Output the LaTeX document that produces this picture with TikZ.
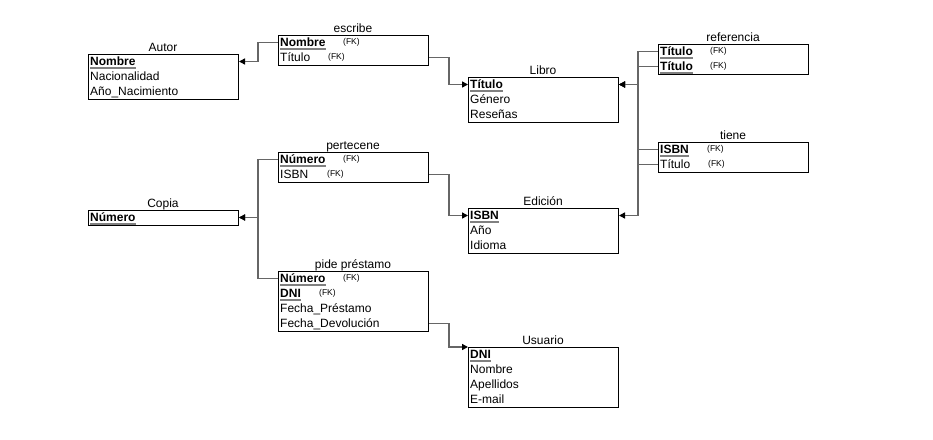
\documentclass[tikz,border=0pt]{standalone}
\usepackage{fontspec}
\setmainfont{Liberation Sans}
\usetikzlibrary{arrows.meta}

\begin{document}
\begin{tikzpicture}[x=1pt,y=-1pt,font=\fontsize{12}{14}\selectfont,
  tab/.style={draw,line width=1pt,minimum width=150pt,anchor=north west,inner sep=0pt},
  ttl/.style={anchor=base,inner sep=0pt},
  att/.style={anchor=base west,inner sep=0pt,text height=9pt,text depth=2pt},
  pk/.style={att,font=\fontsize{12}{14}\selectfont\bfseries},
  fk/.style={anchor=base west,inner sep=0pt,font=\fontsize{8.5}{10}\selectfont},
  uline/.style={draw=gray,line width=2pt},
  conn/.style={draw=black!60,line width=1.5pt,-{Triangle[length=6pt,width=6pt,black]}}]
\useasboundingbox (0,0) rectangle (933,439);

\node[tab,minimum height=45pt] (autor) at (88,54) {};
\node[ttl] (autor-t) at (163,51.5) {Autor};
\node[pk] (autor-1) at (90,65) {Nombre};
\foreach \t/\y [count=\i from 2] in {Nacionalidad/80,Año\_Nacimiento/95} \node[att] (autor-\i) at (90,\y) {\t};

\node[tab,minimum height=30pt] (escribe) at (278,35) {};
\node[ttl] (escribe-t) at (353,32.5) {escribe};
\node[pk] (escribe-1) at (280,46) {Nombre};
\node[att] (escribe-2) at (280,61) {Título};
\node[fk] (escribe-fk1) at (343,44.5) {(FK)};
\node[fk] (escribe-fk2) at (328,59.5) {(FK)};

\node[tab,minimum height=45pt] (libro) at (468,77) {};
\node[ttl] (libro-t) at (543,74.5) {Libro};
\node[pk] (libro-1) at (470,88) {Título};
\foreach \t/\y [count=\i from 2] in {Género/103,Reseñas/118} \node[att] (libro-\i) at (470,\y) {\t};

\node[tab,minimum height=30pt] (ref) at (658,44) {};
\node[ttl] (ref-t) at (733,41.5) {referencia};
\node[pk] (ref-1) at (660,55) {Título};
\node[pk] (ref-2) at (660,70) {Título};
\node[fk] (ref-fk1) at (710,53.5) {(FK)};
\node[fk] (ref-fk2) at (710,68.5) {(FK)};

\node[tab,minimum height=30pt] (tiene) at (658,142) {};
\node[ttl] (tiene-t) at (733,139.5) {tiene};
\node[pk] (tiene-1) at (660,153) {ISBN};
\node[att] (tiene-2) at (660,168) {Título};
\node[fk] (tiene-fk1) at (707,151.5) {(FK)};
\node[fk] (tiene-fk2) at (708,166.5) {(FK)};

\node[tab,minimum height=15pt] (copia) at (88,210) {};
\node[ttl] (copia-t) at (163,207.5) {Copia};
\node[pk] (copia-1) at (90,221) {Número};

\node[tab,minimum height=30pt] (pert) at (278,152) {};
\node[ttl] (pert-t) at (353,149.5) {pertecene};
\node[pk] (pert-1) at (280,163) {Número};
\node[att] (pert-2) at (280,178) {ISBN};
\node[fk] (pert-fk1) at (343,161.5) {(FK)};
\node[fk] (pert-fk2) at (327,176.5) {(FK)};

\node[tab,minimum height=45pt] (edicion) at (468,208) {};
\node[ttl] (edicion-t) at (543,205.5) {Edición};
\node[pk] (edicion-1) at (470,219) {ISBN};
\foreach \t/\y [count=\i from 2] in {Año/234,Idioma/249} \node[att] (edicion-\i) at (470,\y) {\t};

\node[tab,minimum height=60pt] (pide) at (278,271) {};
\node[ttl] (pide-t) at (353,268.5) {pide préstamo};
\node[pk] (pide-1) at (280,282) {Número};
\node[pk] (pide-2) at (280,297) {DNI};
\foreach \t/\y [count=\i from 3] in {Fecha\_Préstamo/312,Fecha\_Devolución/327} \node[att] (pide-\i) at (280,\y) {\t};
\node[fk] (pide-fk1) at (343,280.5) {(FK)};
\node[fk] (pide-fk2) at (319,295.5) {(FK)};

\node[tab,minimum height=60pt] (usuario) at (468,347) {};
\node[ttl] (usuario-t) at (543,344.5) {Usuario};
\node[pk] (usuario-1) at (470,358) {DNI};
\foreach \t/\y [count=\i from 2] in {Nombre/373,Apellidos/388,E-mail/403} \node[att] (usuario-\i) at (470,\y) {\t};

\foreach \n in {autor-1,escribe-1,libro-1,ref-1,ref-2,tiene-1,copia-1,pert-1,edicion-1,pide-1,pide-2,usuario-1}
  \draw[uline] ([yshift=-2.5pt]\n.base west) -- ([yshift=-2.5pt]\n.base east);

\draw[conn] (escribe.west |- escribe-1) -- ++(-20,0) |- (autor.east |- autor-1);
\draw[conn] (escribe.east |- escribe-2) -- ++(20,0) |- (libro.west |- libro-1);
\draw[conn] (ref.west |- ref-1) -- ++(-20,0) |- (libro.east |- libro-1);
\draw[conn] (ref.west |- ref-2) -- ++(-20,0) |- (libro.east |- libro-1);
\draw[conn] (tiene.west |- tiene-2) -- ++(-20,0) |- (libro.east |- libro-1);
\draw[conn] (tiene.west |- tiene-1) -- ++(-20,0) |- (edicion.east |- edicion-1);
\draw[conn] (pert.west |- pert-1) -- ++(-20,0) |- (copia.east |- copia-1);
\draw[conn] (pide.west |- pide-1) -- ++(-20,0) |- (copia.east |- copia-1);
\draw[conn] (pert.east |- pert-2) -- ++(20,0) |- (edicion.west |- edicion-1);
\draw[conn] (pide.east |- pide-4) -- ++(20,0) |- (usuario.north west);
\end{tikzpicture}
\end{document}
